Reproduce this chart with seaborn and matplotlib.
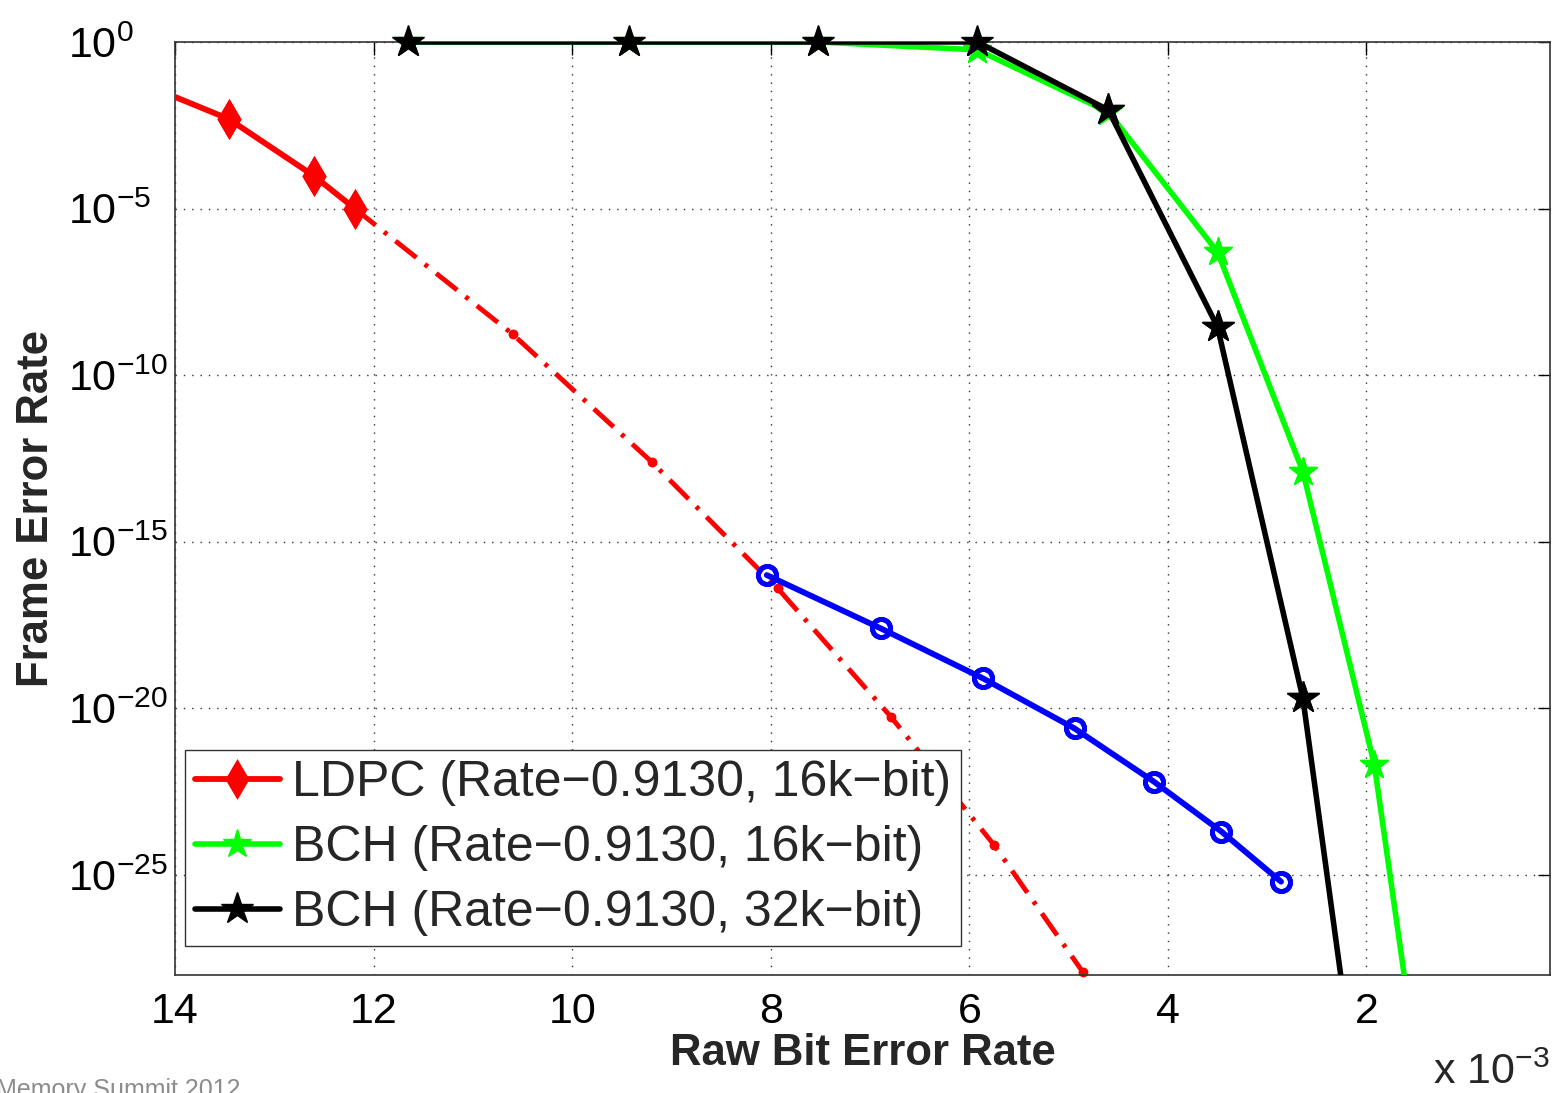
import matplotlib
matplotlib.use("Agg")
import matplotlib.pyplot as plt
import numpy as np
import seaborn as sns

# raw bit error rate in units of 10^-3, frame error rate
ldpc_x = [14.3, 13.46, 12.6, 12.19]
ldpc_y = [5.2e-2, 4.9e-3, 9.5e-5, 1.0e-5]

ldpc_ext_x = [12.19, 10.6, 9.2, 7.93, 6.79, 5.75, 4.86]
ldpc_ext_y = [1.0e-5, 1.7e-9, 2.5e-13, 4.0e-17, 5.6e-21, 7.9e-25, 1.26e-28]

ldpc_low_x = [8.04, 6.89, 5.86, 4.94, 4.14, 3.46, 2.86]
ldpc_low_y = [1.0e-16, 2.5e-18, 7.9e-20, 2.5e-21, 6.3e-23, 2.0e-24, 6.3e-26]

bch16_x = [11.65, 9.43, 7.52, 5.92, 4.6, 3.5, 2.64, 1.92, 1.45]
bch16_y = [1.0, 1.0, 1.0, 0.58, 7.9e-3, 5.0e-7, 1.26e-13, 2.0e-22, 2.7e-32]

bch32_x = [11.65, 9.43, 7.52, 5.92, 4.6, 3.5, 2.64, 2.0]
bch32_y = [1.0, 1.0, 1.0, 1.0, 9.1e-3, 2.8e-9, 2.0e-20, 2.2e-34]

labels = ["LDPC (Rate\u22120.9130, 16k\u2212bit)",
          "BCH (Rate\u22120.9130, 16k\u2212bit)",
          "BCH (Rate\u22120.9130, 32k\u2212bit)"]
x_ticks = [14, 12, 10, 8, 6, 4, 2]
y_ticks = [1e0, 1e-5, 1e-10, 1e-15, 1e-20, 1e-25]
y_ticklabels = [r"$10^{0}$", r"$10^{-5}$", r"$10^{-10}$", r"$10^{-15}$",
                r"$10^{-20}$", r"$10^{-25}$"]

sns.set_style("white")
plt.rcParams["font.family"] = ["Liberation Sans", "DejaVu Sans"]
plt.rcParams["mathtext.fontset"] = "custom"
plt.rcParams["mathtext.rm"] = "Liberation Sans"
plt.rcParams["mathtext.it"] = "Liberation Sans:italic"
plt.rcParams["mathtext.bf"] = "Liberation Sans:bold"

fig = plt.figure(figsize=(15.59, 10.93), dpi=100)
ax = fig.add_axes([0.1123, 0.108, 0.882, 0.8536])
ax.set_yscale("log")
ax.set_xlim(14, 0.15)
ax.set_ylim(1e-28, 1)

xmin, xmax = 0.15, 14
ymin, ymax = 1e-28, 1


def draw(x, y, label=None, **kw):
    sns.lineplot(x=x, y=y, ax=ax, sort=False, estimator=None, label=label, **kw)
    # markers sitting on the frame are not cut in the original
    xs = np.array(x)
    ys = np.array(y)
    keep = (xs >= xmin) & (xs <= xmax) & (ys >= ymin) & (ys <= ymax)
    mk = {k: v for k, v in kw.items() if k in ("marker", "ms", "mfc", "mec", "mew", "color", "zorder")}
    ax.plot(xs[keep], ys[keep], ls="none", clip_on=False, **mk)


draw(ldpc_ext_x, ldpc_ext_y, color="#ff0000", lw=3.5, dashes=(5.5, 2.2, 0.8, 2.2),
     marker="o", ms=6, mec="#ff0000", mfc="#ff0000", zorder=2)
draw(ldpc_x, ldpc_y, label=labels[0], color="#ff0000", lw=4.2,
     marker="d", ms=17, mec="#ff0000", mfc="#ff0000", mew=2.5, zorder=3)
draw(bch16_x, bch16_y, label=labels[1], color="#00ff00", lw=4,
     marker="*", ms=21, mec="#00ff00", mfc="#00ff00", mew=1, zorder=3)
draw(bch32_x, bch32_y, label=labels[2], color="black", lw=4,
     marker="*", ms=24, mec="black", mfc="black", mew=1, zorder=4)
draw(ldpc_low_x, ldpc_low_y, color="#0000ff", lw=4.2,
     marker="o", ms=13, mec="#0000ff", mfc="none", mew=3.5, zorder=4)

ax.set_xticks(x_ticks)
ax.set_xticklabels([str(t) for t in x_ticks])
ax.set_yticks(y_ticks)
ax.set_yticklabels(y_ticklabels)
ax.yaxis.set_minor_locator(matplotlib.ticker.NullLocator())
ax.xaxis.set_minor_locator(matplotlib.ticker.NullLocator())
ax.tick_params(direction="in", length=9, width=1, top=True, right=True,
               labelsize=31, pad=12, colors="black")
ax.tick_params(axis="y", labelsize=31, pad=77)
for t in ax.get_yticklabels():
    t.set_horizontalalignment("left")
for s in ax.spines.values():
    s.set_color("#333333")
    s.set_linewidth(1.2)
ax.grid(True, which="major", ls=(0, (1, 5)), color="#333333", lw=1)
ax.set_axisbelow(True)

ax.set_xlabel("Raw Bit Error Rate", fontsize=31.5, fontweight="bold")
ax.set_ylabel("Frame Error Rate", fontsize=31.5, fontweight="bold")
ax.xaxis.set_label_coords(0.5, -0.062)
ax.yaxis.set_label_coords(-0.086, 0.5)

h, l = ax.get_legend_handles_labels()
ax.legend(h, l, loc="lower left", bbox_to_anchor=(0.007, 0.031), borderaxespad=0,
          fontsize=36, frameon=True, fancybox=False, framealpha=1,
          edgecolor="#333333", handlelength=1.7, handletextpad=0.24,
          labelspacing=0.38, borderpad=0.2, numpoints=1)

fig.text(0.9942, 0.008, r"x $10^{-3}$", ha="right", va="baseline", fontsize=31)
fig.text(240 / 1559, -0.004, "Flash Memory Summit 2012", ha="right", va="baseline",
         fontsize=18, color="#8c8c8c")

fig.savefig("out.png", dpi=100)
